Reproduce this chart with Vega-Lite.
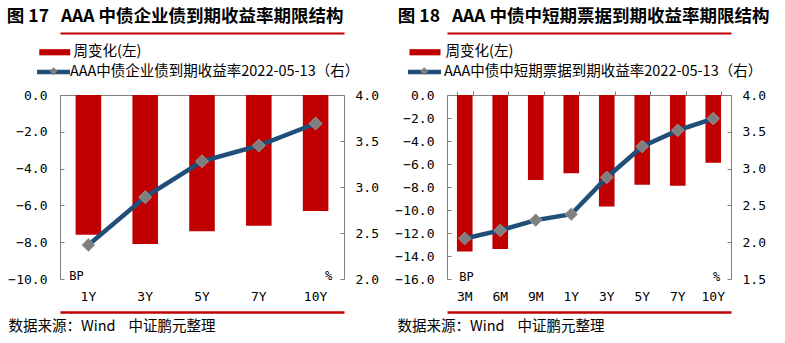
{
  "$schema": "https://vega.github.io/schema/vega-lite/v6.json",
  "background": "white",
  "padding": {"left": 6, "top": 8, "right": 5, "bottom": 5},
  "spacing": 15,
  "config": {
    "font": "Noto Sans CJK SC",
    "view": {"stroke": null},
    "axis": {
      "grid": false,
      "domainColor": "#808080",
      "tickColor": "#808080",
      "labelColor": "#000000",
      "labelFont": "DejaVu Sans Mono",
      "labelFontSize": 13,
      "titleColor": "#000000"
    },
    "legend": {"labelFont": "Noto Sans CJK SC", "labelFontSize": 14.5, "labelColor": "#000000", "labelLimit": 500},
    "title": {"font": "Noto Sans CJK SC", "fontSize": 17.5, "fontWeight": "bold", "color": "#000000", "anchor": "start", "frame": "bounds"}
  },
  "hconcat": [
    {
      "width": 284,
      "height": 184,
      "title": {"text": "图 17\u00a0\u00a0\u00a0AAA 中债企业债到期收益率期限结构", "offset": 7.5, "dx": -1},
      "data": {"values": [
        {"term": "1Y", "chg": -7.6, "yld": 2.37},
        {"term": "3Y", "chg": -8.1, "yld": 2.89},
        {"term": "5Y", "chg": -7.4, "yld": 3.28},
        {"term": "7Y", "chg": -7.1, "yld": 3.45},
        {"term": "10Y", "chg": -6.3, "yld": 3.69}
      ]},
      "layer": [
        {
          "mark": {"type": "bar", "color": "#C00000"},
          "encoding": {
            "x": {"field": "term", "type": "nominal", "sort": null,
              "scale": {"paddingInner": 0.55, "paddingOuter": 0.275},
              "axis": {"orient": "top", "title": null, "labels": false, "ticks": false}},
            "y": {"field": "chg", "type": "quantitative",
              "scale": {"domain": [-10, 0], "nice": false},
              "axis": {"orient": "left", "values": [-10, -8, -6, -4, -2, 0], "format": ".1f",
                "tickSize": -4, "labelPadding": 17,
                "title": "BP", "titleAngle": 0, "titleX": 16, "titleY": 180, "titleAlign": "center", "titleBaseline": "middle",
                "titleFont": "DejaVu Sans Mono", "titleFontSize": 12, "titleFontWeight": "normal"}},
            "fill": {"datum": "周变化(左)", "scale": {"range": ["#C00000"]},
              "legend": {"orient": "none", "legendX": -13.25, "legendY": -50.75, "title": null,
                "symbolType": "M-2,-0.4H2V0.4H-2Z", "symbolSize": 240.25, "symbolStrokeWidth": 0, "labelOffset": 10.75}}
          }
        },
        {
          "encoding": {
            "y": {"field": "yld", "type": "quantitative",
              "scale": {"domain": [2, 4], "nice": false},
              "axis": {"orient": "right", "values": [2, 2.5, 3, 3.5, 4], "format": ".1f",
                "tickSize": -4, "labelPadding": 15,
                "title": "%", "titleAngle": 0, "titleX": -16, "titleY": 180, "titleAlign": "center", "titleBaseline": "middle",
                "titleFont": "DejaVu Sans Mono", "titleFontSize": 12, "titleFontWeight": "normal"}}
          },
          "layer": [
            {
              "mark": {"type": "line", "strokeWidth": 4.5},
              "encoding": {
                "x": {"field": "term", "type": "nominal", "sort": null,
                  "axis": {"orient": "bottom", "offset": 33, "domain": true, "domainColor": "#C00000", "domainWidth": 2.5,
                    "ticks": false, "labelAngle": 0, "labelPadding": -22,
                    "title": "数据来源：Wind\u00a0\u00a0\u00a0\u00a0中证鹏元整理", "titleX": -52, "titleY": 14, "titleAlign": "left", "titleBaseline": "middle",
                    "titleFontSize": 14.5, "titleFontWeight": "normal", "titleFont": "Noto Sans CJK SC"}},
                "stroke": {"datum": "AAA中债企业债到期收益率2022-05-13（右）", "scale": {"range": ["#1F4E79"]},
                  "legend": {"orient": "none", "legendX": -17, "legendY": -33.5, "title": null,
                    "symbolType": "M-2,0H2", "symbolSize": 272.25, "symbolStrokeWidth": 4.5, "labelOffset": 6}}
              }
            },
            {
              "mark": {"type": "point", "shape": "diamond", "filled": true, "size": 170, "color": "#7F7F7F", "opacity": 1, "stroke": "#A0A0A0", "strokeWidth": 0.8},
              "encoding": {
                "x": {"field": "term", "type": "nominal", "sort": null,
                  "axis": {"orient": "top", "offset": 62, "domain": true, "domainColor": "#C00000", "domainWidth": 2,
                    "ticks": false, "labels": false, "title": null}},
                "shape": {"datum": "点", "scale": {"range": ["diamond"]},
                  "legend": {"orient": "none", "legendX": -10.5, "legendY": -27.75, "title": null,
                    "symbolSize": 64, "symbolFillColor": "#7F7F7F", "symbolStrokeColor": "#7F7F7F", "symbolStrokeWidth": 0,
                    "labelExpr": "''", "labelFontSize": 1, "labelOffset": 0}}
              }
            }
          ],
          "resolve": {"axis": {"x": "independent"}}
        }
      ],
      "resolve": {"scale": {"y": "independent"}, "axis": {"x": "independent"}}
    },
    {
      "width": 284,
      "height": 184,
      "title": {"text": "图 18\u00a0\u00a0\u00a0AAA 中债中短期票据到期收益率期限结构", "offset": 7.5, "dx": 3},
      "data": {"values": [
        {"term": "3M", "chg": -13.6, "yld": 2.05},
        {"term": "6M", "chg": -13.4, "yld": 2.16},
        {"term": "9M", "chg": -7.4, "yld": 2.30},
        {"term": "1Y", "chg": -6.8, "yld": 2.38},
        {"term": "3Y", "chg": -9.7, "yld": 2.88},
        {"term": "5Y", "chg": -7.8, "yld": 3.30},
        {"term": "7Y", "chg": -7.9, "yld": 3.52},
        {"term": "10Y", "chg": -5.9, "yld": 3.68}
      ]},
      "layer": [
        {
          "mark": {"type": "bar", "color": "#C00000"},
          "encoding": {
            "x": {"field": "term", "type": "nominal", "sort": null,
              "scale": {"paddingInner": 0.56, "paddingOuter": 0.28},
              "axis": {"orient": "top", "title": null, "labels": false, "ticks": true, "tickBand": "extent", "tickSize": 4}},
            "y": {"field": "chg", "type": "quantitative",
              "scale": {"domain": [-16, 0], "nice": false},
              "axis": {"orient": "left", "values": [-16, -14, -12, -10, -8, -6, -4, -2, 0], "format": ".1f",
                "tickSize": -4, "labelPadding": 17,
                "title": "BP", "titleAngle": 0, "titleX": 19, "titleY": 181, "titleAlign": "center", "titleBaseline": "middle",
                "titleFont": "DejaVu Sans Mono", "titleFontSize": 12, "titleFontWeight": "normal"}},
            "fill": {"datum": "周变化(左)", "scale": {"range": ["#C00000"]},
              "legend": {"orient": "none", "legendX": -30, "legendY": -50.75, "title": null,
                "symbolType": "M-2,-0.4H2V0.4H-2Z", "symbolSize": 240.25, "symbolStrokeWidth": 0, "labelOffset": 12.5}}
          }
        },
        {
          "encoding": {
            "y": {"field": "yld", "type": "quantitative",
              "scale": {"domain": [1.5, 4], "nice": false},
              "axis": {"orient": "right", "values": [1.5, 2, 2.5, 3, 3.5, 4], "format": ".1f",
                "tickSize": -4, "labelPadding": 15,
                "title": "%", "titleAngle": 0, "titleX": -15, "titleY": 181, "titleAlign": "center", "titleBaseline": "middle",
                "titleFont": "DejaVu Sans Mono", "titleFontSize": 12, "titleFontWeight": "normal"}}
          },
          "layer": [
            {
              "mark": {"type": "line", "strokeWidth": 4.5},
              "encoding": {
                "x": {"field": "term", "type": "nominal", "sort": null,
                  "axis": {"orient": "bottom", "offset": 33, "domain": true, "domainColor": "#C00000", "domainWidth": 2.5,
                    "ticks": false, "labelAngle": 0, "labelPadding": -22,
                    "title": "数据来源：Wind\u00a0\u00a0\u00a0\u00a0中证鹏元整理", "titleX": -50, "titleY": 14, "titleAlign": "left", "titleBaseline": "middle",
                    "titleFontSize": 14.5, "titleFontWeight": "normal", "titleFont": "Noto Sans CJK SC"}},
                "stroke": {"datum": "AAA中债中短期票据到期收益率2022-05-13（右）", "scale": {"range": ["#1F4E79"]},
                  "legend": {"orient": "none", "legendX": -33, "legendY": -33.5, "title": null,
                    "symbolType": "M-2,0H2", "symbolSize": 272.25, "symbolStrokeWidth": 4.5, "labelOffset": 9}}
              }
            },
            {
              "mark": {"type": "point", "shape": "diamond", "filled": true, "size": 160, "color": "#7F7F7F", "opacity": 1, "stroke": "#A0A0A0", "strokeWidth": 0.8},
              "encoding": {
                "x": {"field": "term", "type": "nominal", "sort": null,
                  "axis": {"orient": "top", "offset": 62, "domain": true, "domainColor": "#C00000", "domainWidth": 2,
                    "ticks": false, "labels": false, "title": null}},
                "shape": {"datum": "点", "scale": {"range": ["diamond"]},
                  "legend": {"orient": "none", "legendX": -26.75, "legendY": -27.75, "title": null,
                    "symbolSize": 64, "symbolFillColor": "#7F7F7F", "symbolStrokeColor": "#7F7F7F", "symbolStrokeWidth": 0,
                    "labelExpr": "''", "labelFontSize": 1, "labelOffset": 0}}
              }
            }
          ],
          "resolve": {"axis": {"x": "independent"}}
        }
      ],
      "resolve": {"scale": {"y": "independent"}, "axis": {"x": "independent"}}
    }
  ],
  "resolve": {"scale": {"fill": "independent", "stroke": "independent", "shape": "independent"}, "legend": {"fill": "independent", "stroke": "independent", "shape": "independent"}}
}
